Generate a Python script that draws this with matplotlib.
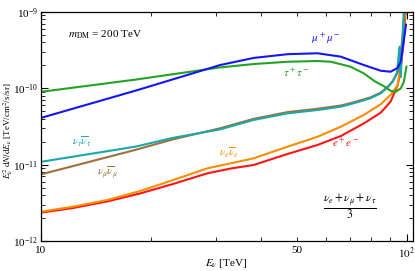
import matplotlib
matplotlib.use('Agg')
import matplotlib.pyplot as plt
from matplotlib.ticker import FixedLocator, FuncFormatter, LogLocator, NullFormatter

plt.rcParams['font.family'] = 'serif'
plt.rcParams['font.serif'] = ['Liberation Serif', 'DejaVu Serif']
plt.rcParams['mathtext.fontset'] = 'stix'

# spectra: E [TeV], E^2 dN/dE [TeV/cm^2/s/sr]
E_mu = [10, 18.1, 30.9, 38.1, 47.2, 57, 66, 76.3, 84.9, 90.3, 94.4, 96.3, 98.2, 99.5]
F_mu = [4.1e-11, 9.3e-11, 2.02e-10, 2.5e-10, 2.8e-10, 2.88e-10, 2.6e-10, 2.02e-10,
        1.7e-10, 1.65e-10, 1.85e-10, 2.24e-10, 4.3e-10, 6.8e-10]

E_tau = [10, 18.1, 30.9, 38.1, 47.2, 57, 62, 70.2, 76.3, 82.1, 86.5, 90.3, 93.2,
         96.3, 98.2, 99.8]
F_tau = [9.0e-11, 1.3e-10, 1.88e-10, 2.08e-10, 2.23e-10, 2.28e-10, 2.23e-10, 1.92e-10,
         1.57e-10, 1.22e-10, 1.07e-10, 9.3e-11, 9.0e-11, 1.0e-10, 1.22e-10, 1.92e-10]

E_nutau = [10, 18.1, 23, 30.9, 38.1, 47.2, 57, 66, 71.5, 79.5, 84.9, 88.7, 91.5, 94,
           95.5, 96.3, 97.2, 98.5, 100]
F_nutau = [1.09e-11, 1.72e-11, 2.25e-11, 2.9e-11, 3.85e-11, 4.7e-11, 5.2e-11, 5.75e-11,
           6.36e-11, 7.4e-11, 8.6e-11, 1.03e-10, 1.22e-10, 1.6e-10, 3.5e-10, 1.4e-10,
           4.0e-10, 1.5e-09, 3e-09]

E_numu = [10, 18.1, 23, 30.9, 38.1, 47.2, 57, 66, 71.5, 79.5, 84.9, 88.7, 91.5, 95,
          97.5, 99, 100]
F_numu = [7.46e-12, 1.56e-11, 2.15e-11, 3.0e-11, 3.98e-11, 4.88e-11, 5.4e-11, 5.95e-11,
          6.55e-11, 7.6e-11, 8.8e-11, 1.05e-10, 1.24e-10, 1.7e-10, 5e-10, 1.3e-09, 3e-09]

E_nue = [10, 12.2, 15.17, 18.68, 23, 28.5, 33, 38.1, 47.2, 57, 66, 76.3, 84.9, 90.3,
         94.4, 96, 98, 99.3, 100]
F_nue = [2.42e-12, 2.81e-12, 3.44e-12, 4.52e-12, 6.3e-12, 8.96e-12, 1.04e-11, 1.21e-11,
         1.72e-11, 2.32e-11, 3.14e-11, 4.48e-11, 6.2e-11, 8.2e-11, 1.1e-10, 1.8e-10,
         5e-10, 1.3e-09, 3e-09]

E_e = [10, 12.2, 15.17, 18.68, 23, 28.5, 33, 38.1, 47.2, 57, 66, 76.3, 84.9, 90.3,
       94.4, 96, 98, 99.5, 100]
F_e = [2.35e-12, 2.7e-12, 3.3e-12, 4.2e-12, 5.6e-12, 7.7e-12, 8.9e-12, 9.9e-12,
       1.38e-11, 1.81e-11, 2.37e-11, 3.47e-11, 4.8e-11, 6.7e-11, 1.1e-10, 1.6e-10,
       4e-10, 1.2e-09, 2e-09]

c_mu = '#1414ff'
c_tau = '#22a322'
c_nutau = '#1aa8a8'
c_numu = '#a0703c'
c_nue = '#ff8c00'
c_e = '#ff1414'

fig = plt.figure(figsize=(4.15, 2.71), dpi=100)
ax = fig.add_axes([41/415, 1-241/271, 372/415, 229/271])

lw = 1.5
ax.plot(E_e, F_e, color=c_e, lw=lw)
ax.plot(E_nue, F_nue, color=c_nue, lw=lw)
ax.plot(E_numu, F_numu, color=c_numu, lw=lw)
ax.plot(E_nutau, F_nutau, color=c_nutau, lw=lw)
ax.plot(E_tau, F_tau, color=c_tau, lw=lw)
ax.plot(E_mu, F_mu, color=c_mu, lw=lw)

ax.set_xscale('log')
ax.set_yscale('log')
ax.set_xlim(10, 104)
ax.set_ylim(1e-12, 1e-9)

ax.xaxis.set_major_locator(FixedLocator([10, 100]))
ax.xaxis.set_major_formatter(FuncFormatter(lambda v, p: '10' if v < 50 else r'$10^2$'))
ax.xaxis.set_minor_locator(FixedLocator([20, 30, 40, 50, 60, 70, 80, 90]))
ax.xaxis.set_minor_formatter(FuncFormatter(lambda v, p: '50' if abs(v-50) < 1 else ''))
ax.yaxis.set_major_locator(LogLocator(base=10, numticks=10))
ax.yaxis.set_minor_locator(LogLocator(base=10, subs=range(2, 10), numticks=20))
ax.yaxis.set_minor_formatter(NullFormatter())

ax.tick_params(which='both', direction='in', top=True, right=True, labelsize=8)
ax.tick_params(axis='x', which='both', pad=3.5)
ax.tick_params(axis='y', which='both', pad=2)
ax.tick_params(which='major', length=5, width=0.8)
ax.tick_params(which='minor', length=3, width=0.6)
for s in ax.spines.values():
    s.set_linewidth(0.9)

ax.set_xlabel(r'$E_\nu$ [TeV]', fontsize=8)
ax.xaxis.set_label_coords(0.497, -0.07)
ax.set_ylabel(r'$E_\nu^2\ {\rm d}N/{\rm d}E_\nu$ [TeV/cm$^2$/s/sr]', fontsize=6.5)
ax.yaxis.set_label_coords(-0.071, 0.48)

ax.text(11.86, 5e-10, r'$m_{\rm DM}$ = 200 TeV', fontsize=8, ha='left', va='center')
ax.text(60, 4.4e-10, r'$\mu^+\mu^-$', color=c_mu, fontsize=8, ha='center', va='center')
ax.text(50, 1.58e-10, r'$\tau^+\tau^-$', color=c_tau, fontsize=8, ha='center', va='center')
ax.text(12.95, 1.98e-11, r'$\nu_\tau\overline{\nu}_\tau$', color=c_nutau, fontsize=8,
        ha='center', va='center')
ax.text(15.17, 7.8e-12, r'$\nu_\mu\overline{\nu}_\mu$', color=c_numu, fontsize=8,
        ha='center', va='center')
ax.text(32.7, 1.42e-11, r'$\nu_e\overline{\nu}_e$', color=c_nue, fontsize=8,
        ha='center', va='center')
ax.text(68.1, 1.92e-11, r'$e^+e^-$', color=c_e, fontsize=8, ha='center', va='center')
ax.text(69.9, 2.8e-12, r'$\frac{\nu_e+\nu_\mu+\nu_\tau}{3}$', fontsize=12,
        ha='center', va='center')

fig.savefig('out.png', dpi=100)
